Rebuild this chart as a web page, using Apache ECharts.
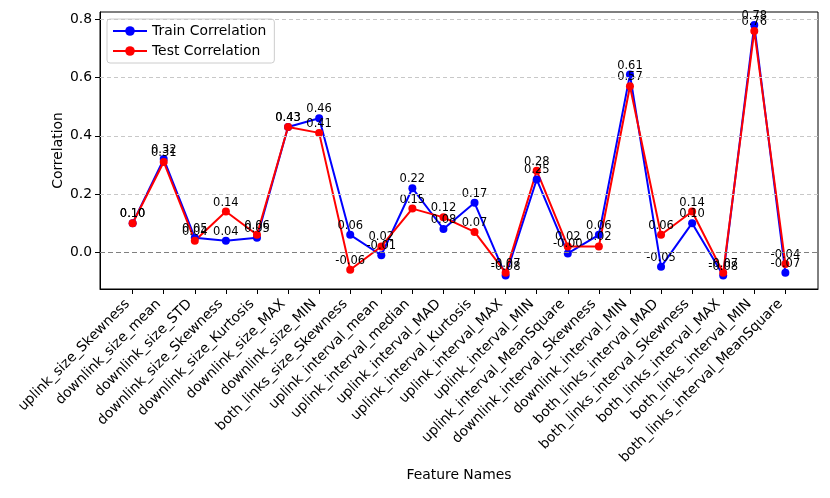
<!DOCTYPE html>
<html>
<head>
<meta charset="utf-8">
<script src="https://cdn.jsdelivr.net/npm/echarts@6/dist/echarts.min.js"></script>
<style>
  html, body { margin: 0; padding: 0; background: #fff; }
  #chart { width: 830px; height: 498px; }
</style>
</head>
<body>
<div id="chart"></div>
<script>
// feature names on the x axis, in plot order
const featureNames = [
  "uplink_size_Skewness", "downlink_size_mean", "downlink_size_STD",
  "downlink_size_Skewness", "downlink_size_Kurtosis", "downlink_size_MAX",
  "downlink_size_MIN", "both_links_size_Skewness", "uplink_interval_mean",
  "uplink_interval_median", "uplink_interval_MAD", "uplink_interval_Kurtosis",
  "uplink_interval_MAX", "uplink_interval_MIN", "uplink_interval_MeanSquare",
  "downlink_interval_Skewness", "downlink_interval_MIN", "both_links_interval_MAD",
  "both_links_interval_Skewness", "both_links_interval_MAX", "both_links_interval_MIN",
  "both_links_interval_MeanSquare"
]

const trainCorr = [0.10, 0.32, 0.05, 0.04, 0.05, 0.43, 0.46, 0.06, -0.01, 0.22, 0.08,
  0.17, -0.08, 0.25, -0.004, 0.06, 0.61, -0.05, 0.10, -0.08, 0.78, -0.07]
const testCorr = [0.10, 0.31, 0.04, 0.14, 0.06, 0.43, 0.41, -0.06, 0.02, 0.15, 0.12,
  0.07, -0.07, 0.28, 0.02, 0.02, 0.57, 0.06, 0.14, -0.07, 0.76, -0.04]

const yTicks = [0, 0.2, 0.4, 0.6, 0.8]

const FONT = "DejaVu Sans"
const xIndex = featureNames.map((_, i) => i)

function lineSeries(name, values, color) {
  return {
    name,
    type: "line",
    data: values.map((v, i) => [i, v]),
    symbol: "circle",
    symbolSize: 8,
    z: 3,
    itemStyle: { color },
    lineStyle: { color, width: 2 },
    label: {
      show: true,
      position: "top",
      distance: -1,
      color: "#000",
      fontFamily: FONT,
      fontSize: 11.5,
      formatter: (p) => p.value[1].toFixed(2)
    },
    emphasis: { disabled: true },
    animation: false
  }
}

const chart = echarts.init(document.getElementById("chart"), null, { renderer: "canvas" })

chart.setOption({
  animation: false,
  textStyle: { fontFamily: FONT },
  grid: {
    left: 100, right: 12, top: 12, bottom: 209,
    show: true, borderColor: "#000", borderWidth: 1, backgroundColor: "transparent"
  },
  legend: {
    orient: "vertical",
    left: 107, top: 19,
    padding: [5, 8, 5, 5],
    itemGap: 6,
    itemWidth: 34,
    itemHeight: 12,
    backgroundColor: "rgba(255,255,255,0.8)",
    borderColor: "#cccccc",
    borderWidth: 1,
    borderRadius: 3,
    textStyle: { fontFamily: FONT, fontSize: 13.9, color: "#000" },
    data: ["Train Correlation", "Test Correlation"]
  },
  xAxis: {
    type: "value",
    min: -1.05,
    max: 22.05,
    name: "Feature Names",
    nameLocation: "middle",
    nameGap: 179,
    nameMoveOverlap: false,
    nameTextStyle: { fontFamily: FONT, fontSize: 13.9, color: "#000" },
    splitLine: { show: false },
    axisLine: { show: true, onZero: false, lineStyle: { color: "#000", width: 1 } },
    axisTick: { show: true, length: 5, customValues: xIndex, lineStyle: { color: "#000" } },
    axisLabel: {
      customValues: xIndex,
      rotate: 45,
      margin: 8,
      padding: [0, 7, 0, 0],
      fontFamily: FONT,
      fontSize: 13.9,
      color: "#000",
      formatter: (v) => featureNames[Math.round(v)]
    }
  },
  yAxis: {
    type: "value",
    min: -0.126,
    max: 0.825,
    name: "Correlation",
    nameLocation: "middle",
    nameGap: 35,
    nameMoveOverlap: false,
    nameTextStyle: { fontFamily: FONT, fontSize: 13.9, color: "#000" },
    splitLine: { show: false },
    axisLine: { show: true, onZero: false, lineStyle: { color: "#000", width: 1 } },
    axisTick: { show: true, length: 5, customValues: yTicks, lineStyle: { color: "#000" } },
    axisLabel: {
      customValues: yTicks,
      margin: 8,
      fontFamily: FONT,
      fontSize: 13.9,
      color: "#000",
      formatter: (v) => v.toFixed(1)
    }
  },
  series: [
    // grid lines and the zero reference line, kept behind the data
    {
      name: "guides",
      type: "line",
      data: [],
      z: 1,
      silent: true,
      markLine: {
        silent: true,
        symbol: "none",
        label: { show: false },
        animation: false,
        data: yTicks.filter((t) => t !== 0).map((t) => ({
          yAxis: t,
          lineStyle: { color: "#c8c8c8", type: [4, 3], width: 1 }
        })).concat([{ yAxis: 0, lineStyle: { color: "#808080", type: [5, 3], width: 1 } }])
      }
    },
    lineSeries("Train Correlation", trainCorr, "#0000ff"),
    lineSeries("Test Correlation", testCorr, "#ff0000")
  ]
})
</script>
</body>
</html>
